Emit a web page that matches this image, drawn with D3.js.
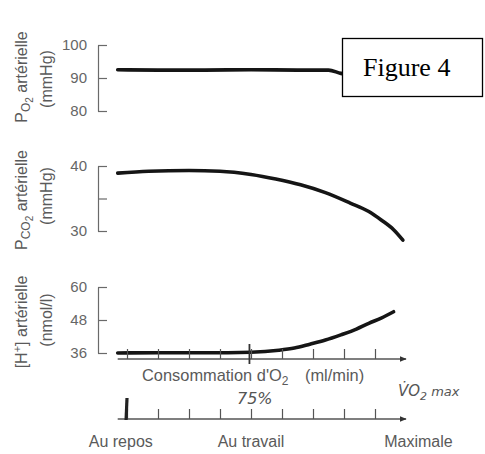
<!DOCTYPE html>
<html><head><meta charset="utf-8">
<script src="https://cdn.jsdelivr.net/npm/d3@7"></script>
<style>
html,body{margin:0;padding:0;background:#fff;}
svg{display:block;font-family:"Liberation Sans",Arial,sans-serif;}
</style></head>
<body>
<svg id="c" width="485" height="454"></svg>
<script>
// ---- data ----
const xTicks = [10, 20, 30, 40, 50, 60, 70, 80, 90];
const po2X = [7, 20, 35, 50, 65, 75, 79, 84, 95];
const po2Y = [92.5, 92.4, 92.4, 92.5, 92.4, 92.4, 91.4, 90.8, 90.5];
const po2Ticks = [80, 90, 100];
const pco2X = [7, 17, 30, 40, 50, 58, 66, 74, 82, 88, 92, 96, 99];
const pco2Y = [38.9, 39.2, 39.3, 39.2, 38.7, 38.0, 37.1, 35.9, 34.3, 33.0, 31.7, 30.2, 28.6];
const pco2Ticks = [30, 35, 40];
const pco2Labels = ["30", "", "40"];
const hX = [7, 20, 35, 50, 59, 64, 69, 74, 79, 84, 88, 92, 96];
const hY = [36.0, 36.1, 36.1, 36.3, 37.0, 37.8, 39.2, 40.7, 42.6, 44.7, 46.8, 48.7, 51.0];
const hTicks = [36, 48, 60];
const levelLabels = ["Au repos", "Au travail", "Maximale"];
const levelPos = [8, 50, 104];

const svg = d3.select("#c");
const gray = "#5a5a5a";
const x = d3.scaleLinear().domain([0, 100]).range([96, 406]);

const panels = [
  {X: po2X, Y: po2Y, ticks: po2Ticks, fmt: d => d, dom: [80, 100], rng: [111, 45],
   lab1: [["P",""],["O","sub"],["2","sub2"],[" artérielle",""]], lab2: "(mmHg)", c1: 77, c2: 79},
  {X: pco2X, Y: pco2Y, ticks: pco2Ticks, fmt: (d,i) => pco2Labels[i], dom: [30, 40], rng: [231, 166],
   lab1: [["P",""],["CO","sub"],["2","sub2"],[" artérielle",""]], lab2: "(mmHg)", c1: 200, c2: 196},
  {X: hX, Y: hY, ticks: hTicks, fmt: d => d, dom: [36, 60], rng: [353, 287],
   lab1: [["[H",""],["+","sup"],["] artérielle",""]], lab2: "(nmol/l)", c1: 322, c2: 320}
];

panels.forEach(p => {
  const y = d3.scaleLinear().domain(p.dom).range(p.rng);
  const ax = svg.append("g").attr("transform", "translate(98,0)")
    .call(d3.axisLeft(y).tickValues(p.ticks).tickFormat(p.fmt)
      .tickSizeInner(-9).tickSizeOuter(0).tickPadding(11));
  ax.selectAll("path,line").attr("stroke", "#6a6a6a").attr("stroke-width", 1.2);
  ax.selectAll("text").attr("font-size", 15).attr("fill", "#666")
    .style("font-family", "'Liberation Sans', Arial, sans-serif");

  const t1 = svg.append("text").attr("transform", `translate(27,${p.c1}) rotate(-90)`)
    .attr("text-anchor", "middle").attr("font-size", 16).attr("fill", gray);
  let shift = 0;
  p.lab1.forEach(([s, k]) => {
    const ts = t1.append("tspan").text(s);
    if (k === "sub") { ts.attr("font-size", 12).attr("dy", 3); shift += 3; }
    else if (k === "sub2") { ts.attr("font-size", 10).attr("dy", 3); shift += 3; }
    else if (k === "sup") { ts.attr("font-size", 11).attr("dy", -6); shift -= 6; }
    else if (shift !== 0) { ts.attr("dy", -shift); shift = 0; }
  });
  svg.append("text").attr("transform", `translate(52,${p.c2}) rotate(-90)`)
    .attr("text-anchor", "middle").attr("font-size", 16).attr("fill", gray).text(p.lab2);

  const data = p.X.map((v, i) => [v, p.Y[i]]);
  svg.append("path").datum(data)
    .attr("d", d3.line().x(d => x(d[0])).y(d => y(d[1])).curve(d3.curveMonotoneX))
    .attr("fill", "none").attr("stroke", "#151515").attr("stroke-width", 3.6)
    .attr("stroke-linecap", "round").attr("stroke-linejoin", "round");
});

// arrow marker
svg.append("defs").append("marker").attr("id", "arr").attr("viewBox", "0 0 10 10")
  .attr("refX", 9).attr("refY", 5).attr("markerWidth", 7).attr("markerHeight", 7)
  .attr("markerUnits", "userSpaceOnUse").attr("orient", "auto")
  .append("path").attr("d", "M0,1L10,5L0,9Z").attr("fill", "#333");

function xAxis(yPos) {
  svg.append("line").attr("x1", x(7)).attr("x2", x(100)).attr("y1", yPos).attr("y2", yPos)
    .attr("stroke", "#555").attr("stroke-width", 1.3).attr("marker-end", "url(#arr)");
  const g = svg.append("g").attr("transform", `translate(0,${yPos})`)
    .call(d3.axisTop(x).tickValues(xTicks).tickFormat("").tickSizeInner(10).tickSizeOuter(0));
  g.select(".domain").remove();
  g.selectAll("line").attr("stroke", "#555").attr("stroke-width", 1.2);
}
xAxis(359);
xAxis(419);

// hand marks
svg.append("line").attr("x1", x(49.5)).attr("x2", x(49.5)).attr("y1", 344).attr("y2", 364)
  .attr("stroke", "#333").attr("stroke-width", 1.8);
svg.append("line").attr("x1", x(10)).attr("x2", x(9.7)).attr("y1", 398).attr("y2", 420)
  .attr("stroke", "#222").attr("stroke-width", 3.2);

// x title
const xt = svg.append("text").attr("x", 142).attr("y", 381).attr("font-size", 16.4).attr("fill", gray);
xt.append("tspan").text("Consommation d'O");
xt.append("tspan").text("2").attr("font-size", 12).attr("dy", 4);
xt.append("tspan").text("(ml/min)").attr("x", 305).attr("dy", -4);

// level labels
svg.selectAll(".lvl").data(levelLabels).join("text").attr("class", "lvl")
  .attr("x", (d, i) => x(levelPos[i]) ).attr("y", 447).attr("text-anchor", "middle")
  .attr("font-size", 16).attr("fill", gray).text(d => d);

// handwritten notes
svg.append("text").attr("x", 237).attr("y", 404).attr("font-size", 16)
  .style("font-style", "italic").style("font-family", "'DejaVu Sans', sans-serif")
  .attr("fill", "#555").text("75%");
const vm = svg.append("text").attr("x", 398).attr("y", 396).attr("font-size", 15)
  .style("font-style", "italic").style("font-family", "'DejaVu Sans', sans-serif").attr("fill", "#555");
vm.append("tspan").text("V̇O");
vm.append("tspan").text("2").attr("font-size", 11).attr("dy", 4);
vm.append("tspan").text(" max").attr("font-size", 13).attr("dy", -4);

// figure box
svg.append("rect").attr("x", 342.5).attr("y", 38.5).attr("width", 140).attr("height", 58)
  .attr("fill", "#fff").attr("stroke", "#000").attr("stroke-width", 1.3);
svg.append("text").attr("x", 363).attr("y", 76).attr("font-size", 26)
  .style("font-family", "'Liberation Serif', 'Times New Roman', serif").attr("fill", "#000").text("Figure 4");
</script>
</body></html>
